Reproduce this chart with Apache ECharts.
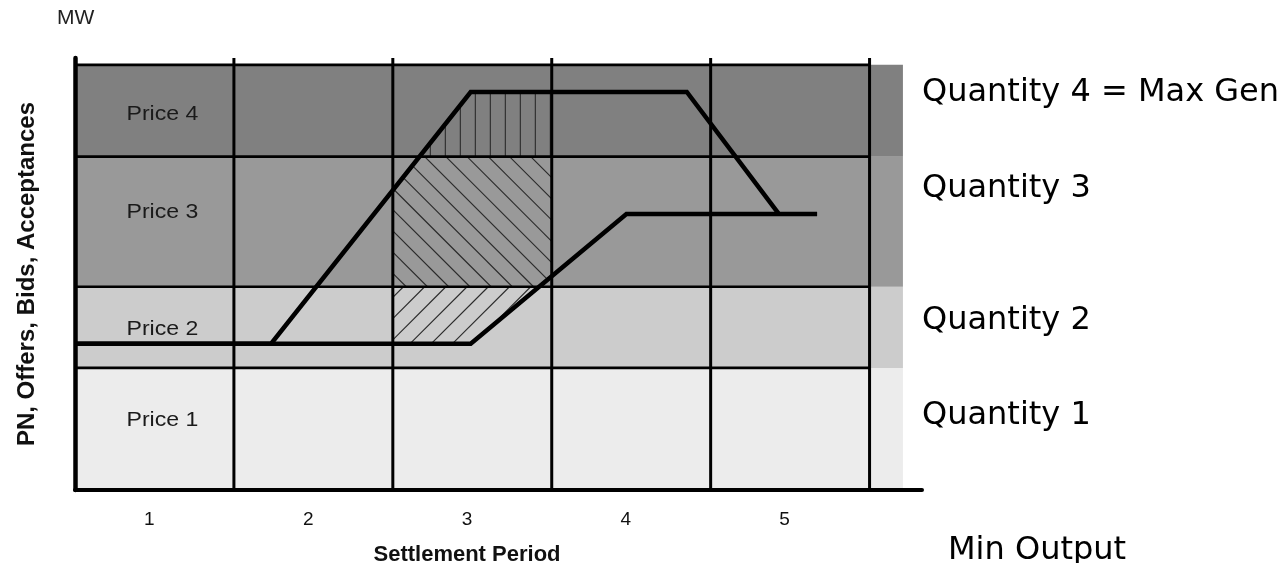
<!DOCTYPE html>
<html><head><meta charset="utf-8">
<script src="https://cdn.jsdelivr.net/npm/echarts@6/dist/echarts.min.js"></script>
<style>html,body{margin:0;padding:0;background:#fff}#chart{width:1286px;height:563px}</style>
</head><body><div id="chart"></div>
<script>
// ---------------- data ----------------
const periods = ['1', '2', '3', '4', '5'];
const bandEdges = [0, 28.7, 47.8, 78.4, 100];            // MW boundaries of the price bands
const priceLabels = ['Price 1', 'Price 2', 'Price 3', 'Price 4'];
const quantityLabels = ['Min Output', 'Quantity 1', 'Quantity 2', 'Quantity 3', 'Quantity 4 = Max Gen'];
const acceptancePath = [[0, 34.4], [1.234, 34.4], [2.49, 93.6], [3.85, 93.6], [4.43, 64.9]];
const pnPath = [[0, 34.4], [2.49, 34.4], [3.47, 64.9], [4.67, 64.9]];
const hatchedPeriod = 3;
const bandExtent = 5.21;          // right end of the quantity shading (period units)

// ---------------- style ----------------
const axisMaxX = 5.33, axisMaxY = 101.6;
const bandColors = ['#ececec', '#cccccc', '#999999', '#808080'];
const labelNudge = [-9, 2, -9, 3];
const hatchAngles = [null, 45, -45, 90];
const hatchGap = 15;
const quantityPos = [[948, 551], [922, 416], [922, 321], [922, 189], [922, 93]];

const chart = echarts.init(document.getElementById('chart'), null, {renderer: 'canvas'});

function renderBand(params, api) {
  const i = params.dataIndex;
  const p0 = api.coord([0, bandEdges[i]]);
  const p1 = api.coord([bandExtent, bandEdges[i + 1]]);
  const pc = api.coord([0.5, (bandEdges[i] + bandEdges[i + 1]) / 2]);
  return {
    type: 'group', children: [
      {type: 'rect', shape: {x: p0[0], y: p1[1], width: p1[0] - p0[0], height: p0[1] - p1[1]},
        style: {fill: bandColors[i]}},
      {type: 'text', x: pc[0] + 8, y: pc[1] + labelNudge[i], scaleX: 1.1,
        style: {text: priceLabels[i], fontSize: 21, fontFamily: 'Liberation Sans', fill: '#1a1a1a',
          align: 'center', verticalAlign: 'middle'}}
    ]
  };
}

function clipHalf(poly, A, B, keepBelow) {
  const f = p => (B[0] - A[0]) * (p[1] - A[1]) - (B[1] - A[1]) * (p[0] - A[0]);
  const inside = v => keepBelow ? v >= 0 : v <= 0;
  const out = [];
  for (let k = 0; k < poly.length; k++) {
    const S = poly[k], E = poly[(k + 1) % poly.length];
    const fs = f(S), fe = f(E);
    const cut = () => { const t = fs / (fs - fe); return [S[0] + t * (E[0] - S[0]), S[1] + t * (E[1] - S[1])]; };
    if (inside(fe)) {
      if (!inside(fs)) out.push(cut());
      out.push(E);
    } else if (inside(fs)) out.push(cut());
  }
  return out;
}

function renderHatch(params, api) {
  const b = params.dataIndex;
  const angle = hatchAngles[b];
  if (angle == null) return;
  const x0 = hatchedPeriod - 1, x1 = hatchedPeriod;
  let poly = [api.coord([x0, bandEdges[b]]), api.coord([x1, bandEdges[b]]),
              api.coord([x1, bandEdges[b + 1]]), api.coord([x0, bandEdges[b + 1]])];
  const refPt = api.coord([x0, bandEdges[b + 1]]);
  const applyPath = (path, below) => {
    for (let k = 0; k < path.length - 1; k++) {
      const a = path[k], c = path[k + 1];
      if (c[0] > x0 && a[0] < x1 && poly.length) poly = clipHalf(poly, api.coord(a), api.coord(c), below);
    }
  };
  applyPath(acceptancePath, true);
  applyPath(pnPath, false);
  if (poly.length < 3) return;
  const rad = angle * Math.PI / 180;
  const d = [Math.cos(rad), -Math.sin(rad)], n = [-d[1], d[0]];
  const proj = poly.map(v => v[0] * n[0] + v[1] * n[1]);
  const ref = refPt[0] * n[0] + refPt[1] * n[1];
  const cmin = Math.min(...proj), cmax = Math.max(...proj);
  const children = [];
  const kStart = Math.ceil((cmin - ref) / hatchGap - 0.5);
  for (let k = kStart; ref + (k + 0.5) * hatchGap < cmax; k++) {
    const c = ref + (k + 0.5) * hatchGap;
    const pts = [];
    for (let i = 0; i < poly.length; i++) {
      const j = (i + 1) % poly.length;
      const a = proj[i] - c, bb = proj[j] - c;
      if ((a < 0) !== (bb < 0)) {
        const t = a / (a - bb);
        pts.push([poly[i][0] + t * (poly[j][0] - poly[i][0]), poly[i][1] + t * (poly[j][1] - poly[i][1])]);
      }
    }
    if (pts.length >= 2) children.push({type: 'line',
      shape: {x1: pts[0][0], y1: pts[0][1], x2: pts[1][0], y2: pts[1][1]},
      style: {stroke: '#2a2a2a', lineWidth: 1.1}});
  }
  return {type: 'group', children};
}

function renderGrid(params, api) {
  const children = [];
  for (let k = 1; k <= periods.length; k++) {
    const a = api.coord([k, 0]), c = api.coord([k, axisMaxY]);
    children.push({type: 'line', shape: {x1: a[0], y1: a[1], x2: c[0], y2: c[1]}, style: {stroke: '#000', lineWidth: 3}});
  }
  for (let k = 1; k < bandEdges.length; k++) {
    const a = api.coord([0, bandEdges[k]]), c = api.coord([periods.length, bandEdges[k]]);
    children.push({type: 'line', shape: {x1: a[0], y1: a[1], x2: c[0], y2: c[1]}, style: {stroke: '#000', lineWidth: 2.7}});
  }
  return {type: 'group', children};
}

const option = {
  animation: false,
  backgroundColor: '#fff',
  textStyle: {fontFamily: 'Liberation Sans'},
  grid: [
    {left: 75, right: 1286 - 922, top: 58, bottom: 73, containLabel: false, outerBoundsMode: 'none'},
    {left: 70, right: 1286 - 864, top: 58, bottom: 73, containLabel: false, outerBoundsMode: 'none'}
  ],
  xAxis: [
    {type: 'value', gridIndex: 0, min: 0, max: axisMaxX, z: 10,
      axisLine: {show: true, lineStyle: {color: '#000', width: 4}},
      axisTick: {show: false}, axisLabel: {show: false}, splitLine: {show: false}},
    {type: 'category', gridIndex: 1, data: periods,
      axisLine: {show: false}, axisTick: {show: false},
      axisLabel: {fontSize: 19, color: '#111', margin: 20, fontFamily: 'Liberation Sans'},
      name: 'Settlement Period', nameLocation: 'middle', nameGap: 54,
      nameTextStyle: {fontSize: 22, fontWeight: 'bold', color: '#111', fontFamily: 'Liberation Sans'}}
  ],
  yAxis: [
    {type: 'value', gridIndex: 0, min: 0, max: axisMaxY, z: 10,
      axisLine: {show: true, lineStyle: {color: '#000', width: 4.5}},
      axisTick: {show: false}, axisLabel: {show: false}, splitLine: {show: false},
      name: 'PN, Offers, Bids, Acceptances', nameLocation: 'middle', nameGap: 36, nameRotate: 90,
      nameTextStyle: {fontSize: 24, fontWeight: 'bold', color: '#111', fontFamily: 'Liberation Sans'}},
    {type: 'value', gridIndex: 1, min: 0, max: axisMaxY, position: 'left',
      axisLine: {show: false}, axisTick: {show: false}, axisLabel: {show: false}, splitLine: {show: false},
      name: 'MW', nameLocation: 'end', nameGap: 29,
      nameTextStyle: {fontSize: 21, color: '#222', fontFamily: 'Liberation Sans', align: 'left', padding: [0, 0, 0, -13]}}
  ],
  graphic: quantityLabels.map((t, i) => ({
    type: 'text', x: quantityPos[i][0], y: quantityPos[i][1],
    style: {text: t, fontSize: 32, fontFamily: 'DejaVu Sans', fill: '#000', verticalAlign: 'middle', align: 'left'}
  })),
  series: [
    {type: 'custom', name: 'Price bands', xAxisIndex: 0, yAxisIndex: 0, z: 1,
      data: priceLabels.map((p, i) => [i]), renderItem: renderBand, silent: true},
    {type: 'custom', name: 'Accepted volume', xAxisIndex: 0, yAxisIndex: 0, z: 2,
      data: priceLabels.map((p, i) => [i]), renderItem: renderHatch, silent: true},
    {type: 'custom', name: 'Grid', xAxisIndex: 0, yAxisIndex: 0, z: 3,
      data: [[0]], renderItem: renderGrid, silent: true},
    {type: 'line', name: 'Acceptance', xAxisIndex: 0, yAxisIndex: 0, z: 5, data: acceptancePath,
      symbol: 'none', lineStyle: {color: '#000', width: 4.5, join: 'miter'}},
    {type: 'line', name: 'PN', xAxisIndex: 0, yAxisIndex: 0, z: 5, data: pnPath,
      symbol: 'none', lineStyle: {color: '#000', width: 4.5, join: 'miter'}}
  ]
};
chart.setOption(option);
</script></body></html>
